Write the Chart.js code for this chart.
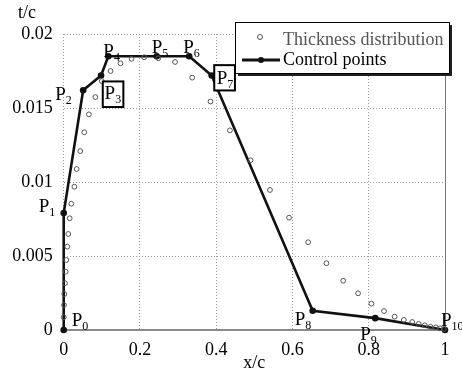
<!DOCTYPE html>
<html><head><meta charset="utf-8">
<script src="https://cdn.jsdelivr.net/npm/chart.js@4"></script>
<style>html,body{margin:0;padding:0;background:#fff}</style>
</head><body>
<canvas id="c" width="462" height="374" style="display:block;width:462px;height:374px"></canvas>
<script>
// ---- data ----
const thicknessX = [0.000,0.0008,0.0016,0.0034,0.0052,0.0068,0.0094,0.012,0.0157,0.020,0.028,0.034,0.0435,0.054,0.066,0.083,0.0996,0.123,0.149,0.178,0.211,0.248,0.292,0.337,0.385,0.436,0.490,0.541,0.591,0.641,0.689,0.733,0.772,0.807,0.840,0.868,0.892,0.914,0.931,0.947,0.962,0.976,0.987,0.997];
const thicknessY = [0.00086,0.00169,0.00243,0.00316,0.00394,0.00473,0.00563,0.00649,0.00755,0.00853,0.00968,0.01088,0.01209,0.01336,0.01457,0.01574,0.01682,0.0175,0.01802,0.01832,0.01843,0.01836,0.01811,0.01705,0.01544,0.01349,0.01147,0.00946,0.00759,0.00593,0.00451,0.00333,0.00248,0.00178,0.00128,0.0009,0.00068,0.00054,0.00041,0.00032,0.00022,0.00018,0.00011,0.00007];
const controlX = [0, 0, 0.051, 0.098, 0.117, 0.244, 0.329, 0.388, 0.653, 0.817, 1];
const controlY = [0, 0.0079, 0.0162, 0.0172, 0.0185, 0.0185, 0.0185, 0.0172, 0.0013, 0.0008, 0];
const pointIndex = ['0','1','2','3','4','5','6','7','8','9','10'];
const xTicks = [0, 0.2, 0.4, 0.6, 0.8, 1];
const yTicks = [0, 0.005, 0.01, 0.015, 0.02];
const seriesNames = ['Thickness distribution', 'Control points'];
const xTitle = 'x/c';
const yTitle = 't/c';

// ---- styling ----
const FONT = '"Liberation Serif", "Times New Roman", serif';
const labelSpec = [
  {dx: 8, dy: -4},
  {dx: -25, dy: -1},
  {dx: -28, dy: 10},
  {dx: 3.5, dy: 24, box: [1.7, 6, 20.6, 25.6]},
  {dx: -5, dy: 1},
  {dx: -5, dy: -3},
  {dx: -6, dy: -3},
  {dx: 5, dy: 9, box: [2.6, -10.3, 20.7, 25.3]},
  {dx: -18, dy: 14},
  {dx: -15, dy: 22},
  {dx: -4, dy: -4}
];

const thicknessData = thicknessX.map((x, i) => ({x, y: thicknessY[i]}));
const controlData = controlX.map((x, i) => ({x, y: controlY[i]}));

function drawPLabel(ctx, sub, x, y) {
  ctx.fillStyle = '#000';
  ctx.textAlign = 'left';
  ctx.textBaseline = 'alphabetic';
  ctx.font = '19px ' + FONT;
  ctx.fillText('P', x, y);
  const w = ctx.measureText('P').width;
  ctx.font = '12px ' + FONT;
  ctx.fillText(sub, x + w, y + 4);
}

const framePlugin = {
  id: 'frame',
  beforeDatasetsDraw(chart) {
    const {ctx, chartArea: a} = chart;
    ctx.save();
    ctx.strokeStyle = '#8a8a8a';
    ctx.lineWidth = 2;
    ctx.beginPath(); ctx.moveTo(a.left, a.bottom); ctx.lineTo(a.right, a.bottom); ctx.stroke();
    ctx.strokeStyle = '#777';
    ctx.lineWidth = 1;
    ctx.beginPath(); ctx.moveTo(a.right + 0.5, a.top); ctx.lineTo(a.right + 0.5, a.bottom); ctx.stroke();
    ctx.restore();
  },
  afterDatasetsDraw(chart) {
    const {ctx} = chart;
    const meta = chart.getDatasetMeta(1);
    ctx.save();
    meta.data.forEach((pt, i) => {
      const s = labelSpec[i];
      if (s.box) {
        ctx.fillStyle = '#fff';
        ctx.fillRect(pt.x + s.box[0], pt.y + s.box[1], s.box[2], s.box[3]);
        ctx.strokeStyle = '#000';
        ctx.lineWidth = 2;
        ctx.strokeRect(pt.x + s.box[0], pt.y + s.box[1], s.box[2], s.box[3]);
      }
      drawPLabel(ctx, pointIndex[i], pt.x + s.dx, pt.y + s.dy);
    });
    // y-axis title
    ctx.fillStyle = '#000';
    ctx.font = '18px ' + FONT;
    ctx.textAlign = 'center';
    ctx.textBaseline = 'middle';
    ctx.fillText(yTitle, 27, 13);
    ctx.restore();
  },
  afterDraw(chart) {
    const {ctx} = chart;
    const bx = 235, by = 22, bw = 214, bh = 51;
    ctx.save();
    ctx.fillStyle = '#222';
    ctx.fillRect(bx + 3, by + 3, bw, bh);
    ctx.fillStyle = '#fff';
    ctx.fillRect(bx, by, bw, bh);
    ctx.strokeStyle = '#000';
    ctx.lineWidth = 1;
    ctx.strokeRect(bx + 0.5, by + 0.5, bw, bh);
    // entry 1
    ctx.beginPath(); ctx.arc(bx + 25, by + 15, 2.5, 0, Math.PI * 2);
    ctx.strokeStyle = '#555'; ctx.lineWidth = 1; ctx.stroke();
    ctx.font = '18px ' + FONT;
    ctx.textAlign = 'left'; ctx.textBaseline = 'alphabetic';
    ctx.fillStyle = '#555';
    ctx.fillText(seriesNames[0], bx + 48, by + 23);
    // entry 2
    ctx.beginPath(); ctx.moveTo(bx + 7, by + 38); ctx.lineTo(bx + 45, by + 38);
    ctx.strokeStyle = '#111'; ctx.lineWidth = 3; ctx.stroke();
    ctx.beginPath(); ctx.arc(bx + 26, by + 38, 3, 0, Math.PI * 2);
    ctx.fillStyle = '#111'; ctx.fill();
    ctx.fillStyle = '#000';
    ctx.fillText(seriesNames[1], bx + 48, by + 43);
    ctx.restore();
  }
};

new Chart(document.getElementById('c'), {
  type: 'scatter',
  data: {
    datasets: [
      {
        label: seriesNames[0],
        data: thicknessData,
        showLine: false,
        pointStyle: 'circle',
        pointRadius: 2.4,
        pointBorderWidth: 1,
        pointBorderColor: '#555',
        pointBackgroundColor: 'rgba(255,255,255,0)',
        clip: false
      },
      {
        label: seriesNames[1],
        data: controlData,
        showLine: true,
        borderColor: '#111',
        borderWidth: 2.6,
        pointRadius: 3.3,
        pointBackgroundColor: '#111',
        pointBorderColor: '#111',
        pointBorderWidth: 0,
        tension: 0,
        clip: false
      }
    ]
  },
  options: {
    responsive: false,
    animation: false,
    devicePixelRatio: 1,
    layout: {padding: {top: 34, right: 17, left: 0, bottom: 0}},
    plugins: {legend: {display: false}, tooltip: {enabled: false}},
    scales: {
      x: {
        type: 'linear', min: 0, max: 1,
        afterBuildTicks: s => { s.ticks = xTicks.map(v => ({value: v})); },
        afterFit: s => { s.height = 44; },
        ticks: {color: '#000', font: {family: FONT, size: 18}, padding: 9, maxRotation: 0, callback: v => String(v)},
        grid: {color: '#9a9a9a', lineWidth: 1, drawTicks: false},
        border: {display: false, dash: [1, 2]},
        title: {display: true, text: xTitle, color: '#000', font: {family: FONT, size: 18}, padding: {top: 0, bottom: 0}}
      },
      y: {
        type: 'linear', min: 0, max: 0.02,
        afterBuildTicks: s => { s.ticks = yTicks.map(v => ({value: v})); },
        afterFit: s => { s.width = 63.7; },
        ticks: {color: '#000', font: {family: FONT, size: 18}, padding: 11, callback: v => String(v)},
        grid: {color: '#9a9a9a', lineWidth: 1, drawTicks: false},
        border: {display: false, dash: [1, 2]}
      }
    }
  },
  plugins: [framePlugin]
});
</script>
</body></html>
